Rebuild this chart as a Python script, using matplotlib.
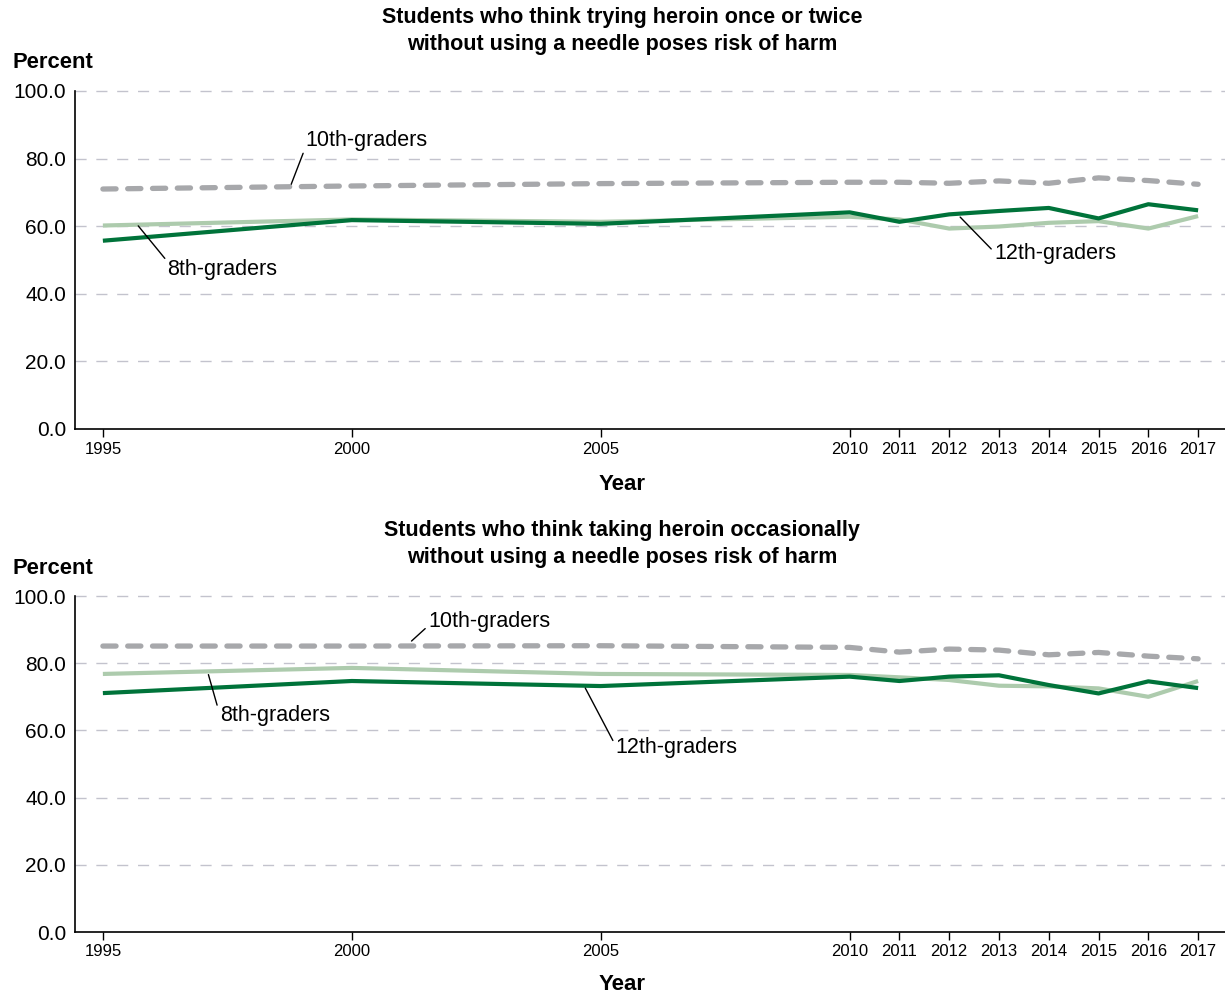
import numpy as np
import matplotlib.pyplot as plt

plt.rcParams['font.family'] = ['Liberation Sans', 'DejaVu Sans']

# Survey years (points drawn on the chart)
years = [1995, 2000, 2005, 2010, 2011, 2012, 2013, 2014, 2015, 2016, 2017]
year_labels = [str(y) for y in years]

# Trying heroin once or twice without a needle
once_8th = [60.2, 62.0, 61.3, 62.8, 62.0, 59.3, 59.9, 61.0, 61.5, 59.3, 63.0]
once_10th = [71.0, 71.9, 72.6, 73.0, 73.0, 72.7, 73.4, 72.7, 74.3, 73.5, 72.4]
once_12th = [55.7, 61.8, 60.7, 64.1, 61.3, 63.5, 64.5, 65.4, 62.3, 66.5, 64.7]

# Taking heroin occasionally without a needle
occ_8th = [76.8, 78.6, 76.8, 76.5, 75.8, 75.0, 73.3, 73.1, 72.5, 70.0, 74.7]
occ_10th = [85.1, 85.1, 85.2, 84.7, 83.3, 84.2, 83.9, 82.5, 83.2, 82.1, 81.3]
occ_12th = [71.1, 74.7, 73.2, 76.0, 74.7, 76.0, 76.4, 73.5, 71.0, 74.6, 72.6]

titles = ["Students who think trying heroin once or twice\nwithout using a needle poses risk of harm",
          "Students who think taking heroin occasionally\nwithout using a needle poses risk of harm"]

dark_green = "#00733a"
light_green = "#adcbad"
gray = "#a7a8ab"
grid_col = "#c3c3cd"

fig = plt.figure(figsize=(12.25, 9.94), dpi=100)
W, H = 1225, 994


def make_axes(top_px, bottom_px):
    return fig.add_axes([75 / W, 1 - bottom_px / H, 1150 / W, (bottom_px - top_px) / H])


def style(ax):
    ax.set_xlim(1994.44, 2017.54)
    ax.set_ylim(0, 100)
    ax.set_yticks(np.arange(0, 101, 20))
    ax.set_yticklabels([f"{v:.1f}" for v in np.arange(0, 101, 20)], fontsize=15)
    ax.set_xticks(years)
    ax.set_xticklabels(year_labels, fontsize=12)
    ax.tick_params(axis='y', length=0, pad=6.5)
    ax.tick_params(axis='x', length=6, width=1, pad=3)
    for s in ['top', 'right']:
        ax.spines[s].set_visible(False)
    for s in ['left', 'bottom']:
        ax.spines[s].set_linewidth(1.2)
    for v in range(20, 101, 20):
        ax.axhline(v, color=grid_col, lw=1, linestyle=(0, (8, 7)), zorder=0, clip_on=False)


def draw(ax, s8, s10, s12):
    ax.plot(years, s8, color=light_green, lw=3, zorder=2, solid_capstyle='butt')
    ax.plot(years, s12, color=dark_green, lw=3, zorder=3, solid_capstyle='butt')
    ax.plot(years, s10, color=gray, lw=3.8, zorder=4, linestyle=(0, (2.5, 2.2)),
            dash_capstyle='round')


def label(ax, text, xy, xytext, relpos):
    ax.annotate(text, xy=xy, xytext=xytext, fontsize=15.5, ha='left', va='center',
                arrowprops=dict(arrowstyle='-', color='black', lw=1, relpos=relpos,
                                shrinkA=0, shrinkB=0))


ax1 = make_axes(91, 429)
style(ax1)
draw(ax1, once_8th, once_10th, once_12th)
label(ax1, "10th-graders", (1998.78, 72.3), (1999.06, 85.5), (0, 0.1))
label(ax1, "8th-graders", (1995.71, 60.1), (1996.3, 47.3), (0, 0.85))
label(ax1, "12th-graders", (2012.22, 62.7), (2012.9, 51.8), (0, 0.6))

ax2 = make_axes(596, 932)
style(ax2)
draw(ax2, occ_8th, occ_10th, occ_12th)
label(ax2, "10th-graders", (2001.2, 86.6), (2001.53, 92.3), (0, 0.3))
label(ax2, "8th-graders", (1997.12, 76.6), (1997.35, 64.3), (0, 0.55))
label(ax2, "12th-graders", (2004.69, 72.6), (2005.3, 54.8), (0, 0.6))

# titles and axis labels in figure coordinates
for title, ty, py, yy in [(titles[0], 31, 62, 485), (titles[1], 544, 569, 985)]:
    fig.text(622 / W, 1 - ty / H, title, ha='center', va='center', fontsize=15.5,
             fontweight='bold', linespacing=1.32)
    fig.text(12 / W, 1 - py / H, "Percent", ha='left', va='center', fontsize=15.8,
             fontweight='bold')
    fig.text(622 / W, 1 - yy / H, "Year", ha='center', va='center', fontsize=16,
             fontweight='bold')

fig.savefig("out.png", dpi=100)
